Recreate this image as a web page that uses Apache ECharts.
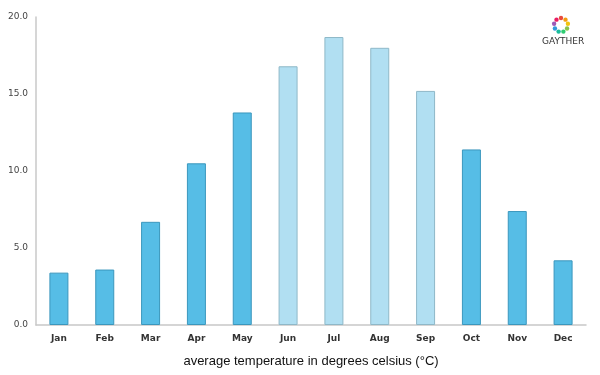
<!DOCTYPE html>
<html>
<head>
<meta charset="utf-8">
<script src="https://cdn.jsdelivr.net/npm/echarts@6/dist/echarts.min.js"></script>
<style>
  html, body { margin: 0; padding: 0; background: #fff; }
  #chart { width: 600px; height: 375px; }
</style>
</head>
<body>
<div id="chart"></div>
<script>
const months = ['Jan', 'Feb', 'Mar', 'Apr', 'May', 'Jun', 'Jul', 'Aug', 'Sep', 'Oct', 'Nov', 'Dec'];
const temps = [3.4, 3.6, 6.7, 10.5, 13.8, 16.8, 18.7, 18.0, 15.2, 11.4, 7.4, 4.2];
// summer months drawn in the lighter shade
const summer = ['Jun', 'Jul', 'Aug', 'Sep'];
const yTicks = [0, 5, 10, 15, 20];

const chart = echarts.init(document.getElementById('chart'));

// little flower of coloured dots for the logo
const petalColors = ['#e94b3c', '#f39c12', '#f1c40f', '#8bc34a', '#2ecc71', '#1abc9c', '#3498db', '#9b59b6', '#e91e63'];
const logo = petalColors.map((c, i) => {
  const a = (i / petalColors.length) * Math.PI * 2 - Math.PI / 2;
  return {
    type: 'circle',
    shape: { cx: 561 + Math.cos(a) * 7, cy: 25 + Math.sin(a) * 7, r: 2.2 },
    style: { fill: c }
  };
});
logo.push({
  type: 'text',
  left: 542, top: 37,
  style: { text: 'GAYTHER', fill: '#333', font: '9px "DejaVu Sans"' }
});

chart.setOption({
  animation: false,
  grid: { left: 36, right: 14, top: 17, bottom: 50 },
  graphic: logo,
  xAxis: {
    type: 'category',
    data: months,
    name: 'average temperature in degrees celsius (°C)',
    nameLocation: 'middle',
    nameGap: 30,
    nameTextStyle: { fontFamily: 'Liberation Sans', fontSize: 13, color: '#111' },
    axisLine: { lineStyle: { color: '#c8c8c8', width: 1.5 } },
    axisTick: { show: false },
    axisLabel: { fontFamily: 'DejaVu Sans', fontSize: 9, fontWeight: 'bold', color: '#333', margin: 9 }
  },
  yAxis: {
    type: 'value',
    min: yTicks[0],
    max: yTicks[yTicks.length - 1],
    interval: 5,
    axisLine: { show: true, lineStyle: { color: '#c8c8c8', width: 1.5 } },
    axisTick: { show: false },
    splitLine: { show: false },
    axisLabel: {
      fontFamily: 'DejaVu Sans', fontSize: 9, color: '#444', margin: 8,
      formatter: v => v.toFixed(1)
    }
  },
  series: [{
    type: 'bar',
    barWidth: 19,
    data: temps.map((v, i) => {
      const light = summer.includes(months[i]);
      return {
        value: v,
        itemStyle: {
          color: light ? '#b1dff2' : '#56bde6',
          borderColor: light ? '#8fb8c8' : '#3b97bd',
          borderWidth: 1
        }
      };
    })
  }]
});
</script>
</body>
</html>
